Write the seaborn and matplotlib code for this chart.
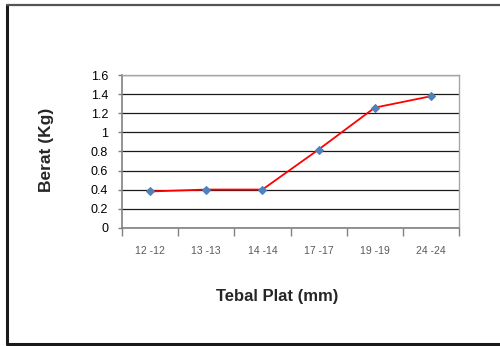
import matplotlib
matplotlib.use("Agg")
import matplotlib.pyplot as plt
import seaborn as sns
import pandas as pd
from matplotlib.lines import Line2D

categories = ["12 -12", "13 -13", "14 -14", "17 -17", "19 -19", "24 -24"]
berat = [0.38, 0.40, 0.40, 0.82, 1.26, 1.38]
yticks = [0, 0.2, 0.4, 0.6, 0.8, 1, 1.2, 1.4, 1.6]
ytick_labels = ["0", "0.2", "0.4", "0.6", "0.8", "1", "1.2", "1.4", "1.6"]

sns.set_style("white")
plt.rcParams["font.family"] = ["Liberation Sans", "DejaVu Sans"]

df = pd.DataFrame({"Tebal": categories, "Berat": berat})

fig = plt.figure(figsize=(5.0, 3.46), dpi=100)
ax = fig.add_axes([0.244, 0.342, 0.674, 0.4405])

sns.lineplot(data=df, x="Tebal", y="Berat", sort=False, ax=ax,
             color="#FF0000", linewidth=1.3, marker="D", markersize=4.5,
             markerfacecolor="#4F81BD", markeredgecolor="#4F81BD", zorder=3)

ax.set_xlim(-0.5, len(categories) - 0.5)
ax.set_ylim(0, 1.6)
ax.set_yticks(yticks)
ax.set_yticklabels(ytick_labels, fontsize=9, color="#000000")
ax.set_xticks(range(len(categories)))
ax.set_xticklabels(categories, fontsize=7.5, color="#595959")
ax.set_xticks([i - 0.5 for i in range(len(categories) + 1)], minor=True)
ax.tick_params(axis="x", which="major", length=0, pad=13, bottom=True)
ax.tick_params(axis="x", which="minor", length=6, width=1, color="#808080",
               direction="out", bottom=True)
ax.tick_params(axis="y", which="major", length=3, width=1, color="#808080",
               direction="out", pad=7, left=True)

ax.grid(axis="y", color="#1a1a1a", linewidth=0.9)
ax.set_axisbelow(True)
for side in ["left", "bottom"]:
    ax.spines[side].set_color("#808080")
    ax.spines[side].set_linewidth(1.2)
for side in ["top", "right"]:
    ax.spines[side].set_visible(True)
    ax.spines[side].set_color("#a6a6a6")
    ax.spines[side].set_linewidth(1.0)

ax.set_xlabel("")
ax.set_ylabel("")
fig.text(277 / 500, 1 - 297 / 346, "Tebal Plat (mm)", fontsize=12, fontweight="bold",
         ha="center", va="center")
fig.text(46 / 500, 1 - 150 / 346, "Berat (Kg)", fontsize=12.5, fontweight="bold",
         ha="center", va="center", rotation=90)

# outer frame
fig.add_artist(Line2D([7 / 500, 7 / 500], [1 - 5 / 346, 1 - 344 / 346],
                      transform=fig.transFigure, color="#1a1a1a", linewidth=2.2))
fig.add_artist(Line2D([7 / 500, 1.0], [1 - 344 / 346, 1 - 344 / 346],
                      transform=fig.transFigure, color="#1a1a1a", linewidth=2.2))
fig.add_artist(Line2D([7 / 500, 1.0], [1 - 5 / 346, 1 - 5 / 346],
                      transform=fig.transFigure, color="#555555", linewidth=1.6))

fig.savefig("out.png", dpi=100)
